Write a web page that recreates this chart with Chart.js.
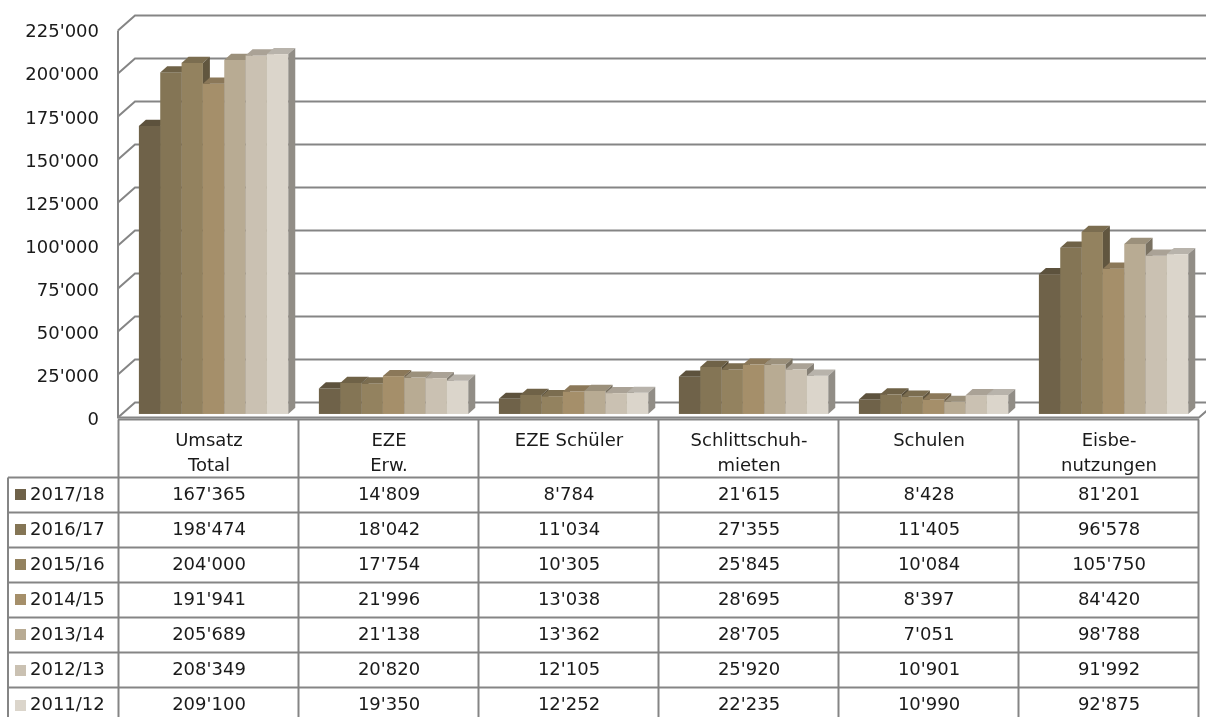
<!DOCTYPE html>
<html lang="de">
<head>
<meta charset="UTF-8" />
<title>Umsatz Eisbahn</title>
<script src="https://cdn.jsdelivr.net/npm/chart.js"></script>
<style>
  html, body { margin: 0; padding: 0; background: #fff; }
  #wrap { width: 1206px; height: 717px; }
</style>
</head>
<body>
<div id="wrap"><canvas id="chartBar"></canvas></div>

<script>
  // Kategorien (Kopfzeile der Tabelle)
  var kategorien = [
    ["Umsatz", "Total"],
    ["EZE", "Erw."],
    ["EZE Schüler"],
    ["Schlittschuh-", "mieten"],
    ["Schulen"],
    ["Eisbe-", "nutzungen"]
  ];

  // Saisons
  var saisons = ["2017/18", "2016/17", "2015/16", "2014/15", "2013/14", "2012/13", "2011/12"];

  // Werte pro Saison
  var werte1718 = [167365, 14809, 8784, 21615, 8428, 81201];
  var werte1617 = [198474, 18042, 11034, 27355, 11405, 96578];
  var werte1516 = [204000, 17754, 10305, 25845, 10084, 105750];
  var werte1415 = [191941, 21996, 13038, 28695, 8397, 84420];
  var werte1314 = [205689, 21138, 13362, 28705, 7051, 98788];
  var werte1213 = [208349, 20820, 12105, 25920, 10901, 91992];
  var werte1112 = [209100, 19350, 12252, 22235, 10990, 92875];

  // Achse
  var yMin = 0, yMax = 225000, ySchritt = 25000;

  var alleWerte = [werte1718, werte1617, werte1516, werte1415, werte1314, werte1213, werte1112];
  var farben = ['#6f6249', '#847555', '#93825f', '#a58f6a', '#b8ab93', '#cac1b2', '#dbd5cb'];

  var schrift = '"DejaVu Sans", sans-serif';
  var linie = '#858585';
  var tiefe = { dx: 17, dy: 15 };      // Tiefe des Bodens / der Wand
  var balkenVorne = 0.27, balkenHinten = 0.68;  // Lage der Balken in der Tiefe

  function fmt(n) {
    return String(n).replace(/\B(?=(\d{3})+(?!\d))/g, "'");
  }

  function dunkler(hex, f) {
    var r = parseInt(hex.substr(1, 2), 16), g = parseInt(hex.substr(3, 2), 16), b = parseInt(hex.substr(5, 2), 16);
    return 'rgb(' + Math.round(r * f) + ',' + Math.round(g * f) + ',' + Math.round(b * f) + ')';
  }

  // Wand, Boden und Gitter (3D-Optik)
  var wandPlugin = {
    id: 'wand',
    beforeDatasetsDraw: function (chart) {
      var ctx = chart.ctx, y = chart.scales.y, a = chart.chartArea;
      var l = a.left - 1, W = chart.width;
      ctx.save();
      ctx.strokeStyle = linie;
      ctx.lineWidth = 2;
      for (var v = yMin; v <= yMax; v += ySchritt) {
        var py = Math.round(y.getPixelForValue(v)) - 0.5;
        ctx.beginPath();
        ctx.moveTo(l, py);
        ctx.lineTo(l + tiefe.dx, py - tiefe.dy);
        ctx.lineTo(W + 20, py - tiefe.dy);
        ctx.stroke();
      }
      var y0 = Math.round(y.getPixelForValue(yMin)) - 0.5;
      var yTop = Math.round(y.getPixelForValue(yMax)) - 0.5;
      ctx.beginPath();
      ctx.moveTo(l, yTop);
      ctx.lineTo(l, y0);
      ctx.lineTo(a.right, y0);
      ctx.lineTo(a.right + tiefe.dx, y0 - tiefe.dy);
      ctx.stroke();
      ctx.restore();
    }
  };

  // Balken als 3D-Quader zeichnen, Positionen aus den Elementen der Bibliothek
  var quaderPlugin = {
    id: 'quader',
    beforeDatasetsDraw: function (chart) {
      var ctx = chart.ctx;
      var fx = tiefe.dx * balkenVorne, fy = tiefe.dy * balkenVorne;
      var bx = tiefe.dx * (balkenHinten - balkenVorne), by = tiefe.dy * (balkenHinten - balkenVorne);
      var n = chart.data.labels.length;
      ctx.save();
      for (var i = 0; i < n; i++) {
        chart.data.datasets.forEach(function (ds, d) {
          var bar = chart.getDatasetMeta(d).data[i];
          var p = bar.getProps(['x', 'y', 'base', 'width'], true);
          var x0 = p.x - p.width / 2 + fx, x1 = p.x + p.width / 2 + fx;
          var top = p.y - fy, bot = p.base - fy;
          var c = ds.backgroundColor;
          // Front
          ctx.fillStyle = c;
          ctx.fillRect(x0, top, x1 - x0, bot - top);
          // Deckel
          ctx.fillStyle = dunkler(c, 0.84);
          ctx.beginPath();
          ctx.moveTo(x0, top);
          ctx.lineTo(x0 + bx, top - by);
          ctx.lineTo(x1 + bx, top - by);
          ctx.lineTo(x1, top);
          ctx.closePath();
          ctx.fill();
          // Seite
          ctx.fillStyle = dunkler(c, 0.66);
          ctx.beginPath();
          ctx.moveTo(x1, top);
          ctx.lineTo(x1 + bx, top - by);
          ctx.lineTo(x1 + bx, bot - by);
          ctx.lineTo(x1, bot);
          ctx.closePath();
          ctx.fill();
        });
      }
      ctx.restore();
      return false; // Standardbalken nicht zeichnen
    }
  };

  // Datentabelle unter dem Diagramm
  var tabellePlugin = {
    id: 'tabelle',
    afterDraw: function (chart) {
      var ctx = chart.ctx, x = chart.scales.x, y = chart.scales.y, a = chart.chartArea;
      var y0 = Math.round(y.getPixelForValue(yMin)) + 1.5;
      var kopfH = 58, zeileH = 35.1;
      var links = 8, spalte0 = a.left - 1, rechts = a.right;
      var breite = (a.right - a.left) / kategorien.length;
      var yZeilen = y0 + kopfH;
      var unten = yZeilen + zeileH * saisons.length;
      ctx.save();
      ctx.strokeStyle = linie;
      ctx.lineWidth = 2;
      ctx.beginPath();
      ctx.moveTo(spalte0, y0); ctx.lineTo(rechts, y0);
      for (var r = 0; r <= saisons.length; r++) {
        var ry = Math.round(yZeilen + r * zeileH) - 0.5;
        ctx.moveTo(links, ry); ctx.lineTo(rechts, ry);
      }
      ctx.moveTo(links, yZeilen); ctx.lineTo(links, unten);
      for (var k = 0; k <= kategorien.length; k++) {
        var kx = Math.round(a.left + k * breite) - 0.5;
        ctx.moveTo(kx, y0); ctx.lineTo(kx, unten);
      }
      ctx.stroke();

      ctx.fillStyle = '#1a1a1a';
      ctx.font = '18px ' + schrift;
      ctx.textAlign = 'center';
      ctx.textBaseline = 'middle';
      kategorien.forEach(function (zeilen, k) {
        var cx = x.getPixelForValue(k);
        zeilen.forEach(function (t, j) {
          ctx.fillText(t, cx, y0 + 22 + j * 25);
        });
      });
      chart.data.datasets.forEach(function (ds, d) {
        var cy = yZeilen + d * zeileH + zeileH / 2;
        ds.data.forEach(function (v, k) {
          ctx.fillText(fmt(v), x.getPixelForValue(k), cy);
        });
        ctx.fillStyle = ds.backgroundColor;
        ctx.fillRect(15, Math.round(cy - 6), 11, 11);
        ctx.fillStyle = '#1a1a1a';
        ctx.textAlign = 'left';
        ctx.fillText(ds.label, 30, cy);
        ctx.textAlign = 'center';
      });
      ctx.restore();
    }
  };

  var ctxBar = document.getElementById("chartBar").getContext("2d");
  var configBar = {
    type: 'bar',
    data: {
      labels: kategorien,
      datasets: saisons.map(function (s, i) {
        return { label: s, data: alleWerte[i], backgroundColor: farben[i], borderWidth: 0 };
      })
    },
    options: {
      responsive: true,
      maintainAspectRatio: false,
      animation: false,
      layout: { padding: { left: 0, right: 7, top: 28, bottom: 299 } },
      datasets: { bar: { categoryPercentage: 0.83, barPercentage: 1.0 } },
      plugins: { legend: { display: false }, tooltip: { enabled: false } },
      scales: {
        x: { display: false, offset: true },
        y: {
          min: yMin, max: yMax,
          afterFit: function (s) { s.width = 119; },
          grid: { display: false, drawTicks: false },
          border: { display: false },
          ticks: {
            stepSize: ySchritt,
            padding: 20,
            labelOffset: 2,
            color: '#1a1a1a',
            font: { family: schrift, size: 18 },
            callback: function (v) { return fmt(v); }
          }
        }
      }
    },
    plugins: [wandPlugin, quaderPlugin, tabellePlugin]
  };
  var ax_chartBar = new Chart(ctxBar, configBar);
</script>
</body>
</html>
